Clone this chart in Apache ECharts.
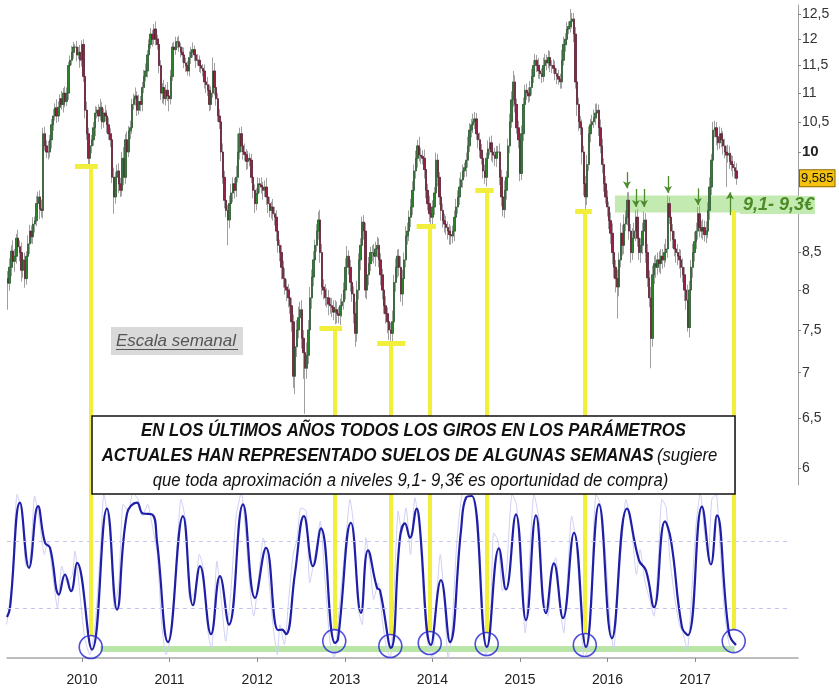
<!DOCTYPE html>
<html>
<head>
<meta charset="utf-8">
<script src="https://cdn.jsdelivr.net/npm/echarts@6/dist/echarts.min.js"></script>
<style>
  html, body { margin: 0; padding: 0; background: #fff; }
  #main { width: 839px; height: 692px; }
</style>
</head>
<body>
<div id="main"></div>
<script>
// velas semanales: cierre en céntimos, mecha superior / inferior en céntimos
const firstWeek = 2009.155
const weekStep = 7 / 365.25
const firstOpen = 8.15
const closes = [
  809, 830, 852, 838, 845, 870, 858, 850, 826, 840,
  815, 845, 862, 880, 872, 890, 895, 920, 930, 912,
  910, 1030, 1010, 1000, 1000, 1020, 1045, 1060, 1074, 1060,
  1075, 1090, 1080, 1100, 1085, 1100, 1150, 1160, 1175, 1185,
  1185, 1170, 1175, 1160, 1190, 1130, 1070, 1030, 990, 1010,
  1020, 1040, 1065, 1070, 1060, 1075, 1050, 1065, 1060, 1045,
  1030, 1020, 960, 930, 960, 970, 950, 940, 990, 960,
  1020, 1000, 1035, 1040, 1080, 1090, 1095, 1070, 1085, 1080,
  1110, 1130, 1140, 1170, 1190, 1210, 1200, 1220, 1200, 1190,
  1150, 1100, 1110, 1090, 1105, 1095, 1090, 1130, 1185, 1180,
  1195, 1195, 1185, 1175, 1170, 1155, 1150, 1140, 1165, 1175,
  1180, 1170, 1160, 1160, 1150, 1145, 1140, 1120, 1115, 1105,
  1080, 1100, 1140, 1110, 1090, 1060, 1050, 1000, 960, 925,
  910, 896, 920, 936, 950, 940, 960, 1000, 1030, 1010,
  1000, 996, 985, 990, 987, 960, 940, 920, 935, 950,
  948, 945, 940, 945, 930, 920, 910, 915, 905, 900,
  880, 860, 850, 830, 815, 804, 800, 790, 780, 760,
  696, 730, 750, 765, 775, 740, 723, 705, 720, 750,
  790, 817, 840, 860, 880, 896, 850, 804, 800, 790,
  790, 782, 780, 778, 772, 775, 770, 768, 780, 785,
  800, 830, 845, 830, 810, 795, 770, 746, 800, 840,
  860, 893, 880, 800, 820, 835, 850, 850, 845, 855,
  860, 840, 820, 800, 780, 770, 760, 750, 746, 760,
  810, 830, 845, 830, 795, 815, 840, 873, 880, 900,
  915, 940, 970, 990, 1010, 995, 993, 990, 972, 940,
  920, 905, 900, 915, 936, 987, 960, 930, 910, 895,
  890, 885, 880, 875, 873, 880, 900, 915, 930, 945,
  956, 970, 975, 987, 1010, 1036, 1045, 1050, 1055, 1030,
  1020, 1003, 990, 970, 960, 990, 1005, 1015, 1000, 995,
  990, 1000, 1000, 960, 930, 911, 940, 960, 1010, 1050,
  1088, 1120, 1080, 1040, 1020, 966, 1030, 1080, 1105, 1100,
  1095, 1110, 1130, 1150, 1160, 1150, 1140, 1135, 1130, 1150,
  1160, 1155, 1165, 1150, 1150, 1145, 1135, 1130, 1125, 1120,
  1160, 1190, 1200, 1220, 1225, 1235, 1240, 1210, 1120, 1080,
  1050, 1040, 1000, 950, 930, 980, 1030, 1045, 1050, 1057,
  1065, 1070, 1040, 1010, 980, 950, 930, 915, 895, 877,
  850, 830, 815, 804, 840, 877, 860, 890, 900, 925,
  880, 850, 870, 880, 900, 870, 850, 860, 880, 896,
  850, 816, 790, 740, 820, 835, 830, 840, 835, 845,
  840, 850, 855, 920, 900, 880, 868, 855, 850, 845,
  840, 830, 820, 800, 787, 753, 800, 830, 850, 865,
  880, 905, 885, 880, 885, 875, 880, 910, 945, 987,
  1036, 1040, 1025, 1015, 1030, 1020, 1010, 1000, 995, 998,
  985, 980, 975, 970, 958.5
]
const upWick = [
  10, 12, 8, 15, 10, 6, 12, 9, 14, 8,
  10, 7, 12, 9, 8, 10, 6, 12, 8, 10,
  14, 10, 12, 9, 18, 8, 10, 12, 8, 15,
  10, 8, 14, 9, 12, 10, 7, 9, 12, 10,
  6, 12, 10, 14, 8, 10, 12, 15, 10, 14,
  8, 10, 12, 6, 10, 15, 9, 8, 14, 10,
  12, 9, 10, 15, 8, 10, 12, 9, 10, 18,
  10, 14, 8, 12, 10, 9, 15, 8, 12, 10,
  10, 12, 14, 9, 10, 12, 8, 10, 15, 9,
  12, 10, 8, 14, 10, 15, 9, 12, 8, 10,
  10, 9, 12, 8, 10, 14, 10, 8, 12, 10,
  14, 8, 10, 12, 9, 10, 8, 12, 10, 14,
  10, 12, 25, 15, 8, 10, 12, 9, 14, 10,
  10, 8, 12, 14, 10, 9, 18, 30, 10, 12,
  10, 14, 9, 12, 8, 10, 12, 9, 8, 10,
  9, 12, 8, 10, 14, 9, 10, 8, 12, 10,
  10, 12, 8, 10, 9, 14, 10, 8, 12, 10,
  9, 10, 12, 14, 10, 12, 10, 8, 15, 12,
  14, 10, 12, 8, 10, 12, 15, 12, 10, 8,
  12, 10, 8, 10, 9, 12, 10, 8, 9, 10,
  10, 12, 14, 8, 10, 12, 10, 15, 12, 9,
  10, 8, 10, 12, 10, 9, 8, 10, 12, 10,
  12, 10, 9, 8, 10, 12, 8, 10, 9, 14,
  10, 12, 9, 10, 15, 12, 10, 14, 12, 10,
  12, 14, 10, 12, 10, 15, 12, 10, 14, 10,
  10, 12, 14, 10, 9, 12, 10, 8, 12, 10,
  10, 12, 9, 10, 12, 8, 10, 12, 10, 14,
  12, 10, 8, 12, 15, 12, 10, 14, 12, 10,
  14, 12, 10, 12, 10, 9, 14, 10, 12, 10,
  12, 10, 10, 14, 12, 8, 15, 10, 12, 14,
  15, 20, 12, 10, 12, 10, 14, 12, 10, 12,
  10, 12, 14, 10, 12, 10, 14, 12, 10, 15,
  12, 10, 14, 12, 10, 12, 14, 10, 12, 10,
  20, 15, 12, 14, 10, 25, 12, 12, 14, 10,
  12, 10, 14, 10, 12, 15, 12, 10, 12, 14,
  16, 12, 10, 14, 12, 10, 12, 10, 8, 12,
  14, 12, 10, 12, 10, 15, 12, 14, 10, 12,
  12, 10, 14, 12, 10, 12, 14, 10, 12, 12,
  10, 12, 10, 14, 12, 10, 12, 10, 12, 10,
  10, 12, 14, 12, 10, 14, 10, 12, 10, 12,
  10, 14, 12, 10, 12, 20, 12, 10, 12, 14,
  12, 10, 12, 10, 12, 10, 14, 12, 15, 10,
  14, 12, 10, 8, 12, 10, 14, 12, 10, 14,
  12, 10, 14, 10, 12
]
const downWick = [
  34, 10, 12, 8, 14, 10, 9, 12, 15, 10,
  12, 8, 10, 14, 9, 10, 12, 8, 10, 15,
  10, 12, 8, 10, 12, 9, 14, 10, 8, 12,
  10, 12, 9, 14, 10, 8, 12, 10, 9, 12,
  10, 12, 8, 14, 12, 10, 14, 10, 12, 10,
  12, 10, 14, 9, 10, 8, 12, 10, 9, 14,
  10, 12, 9, 25, 10, 12, 14, 10, 9, 12,
  10, 12, 8, 14, 10, 9, 12, 10, 8, 12,
  12, 10, 9, 12, 10, 8, 14, 10, 12, 10,
  14, 12, 18, 10, 12, 9, 22, 10, 8, 12,
  10, 12, 9, 10, 14, 10, 12, 8, 10, 12,
  10, 12, 14, 10, 12, 9, 10, 12, 15, 10,
  12, 10, 8, 14, 12, 10, 12, 15, 10, 12,
  10, 36, 12, 10, 14, 12, 10, 8, 12, 10,
  12, 10, 14, 12, 10, 9, 12, 14, 10, 12,
  12, 10, 14, 10, 12, 14, 10, 12, 10, 12,
  14, 10, 12, 16, 12, 10, 14, 12, 10, 12,
  13, 20, 12, 10, 14, 12, 30, 50, 12, 10,
  10, 14, 12, 10, 9, 12, 14, 10, 12, 10,
  12, 14, 10, 12, 10, 15, 12, 10, 12, 14,
  10, 12, 14, 10, 12, 10, 12, 16, 10, 12,
  14, 10, 12, 10, 12, 14, 10, 12, 10, 14,
  12, 10, 14, 12, 10, 12, 14, 12, 10, 10,
  10, 12, 14, 12, 10, 15, 12, 10, 12, 14,
  14, 12, 10, 12, 15, 10, 12, 10, 14, 12,
  10, 12, 10, 14, 12, 10, 14, 12, 15, 10,
  12, 10, 12, 14, 12, 10, 14, 12, 10, 12,
  10, 12, 10, 14, 12, 10, 12, 14, 12, 10,
  14, 12, 10, 12, 10, 14, 12, 10, 14, 12,
  12, 14, 10, 12, 14, 10, 12, 14, 10, 12,
  10, 12, 14, 10, 14, 12, 10, 12, 14, 12,
  12, 10, 14, 12, 10, 12, 14, 10, 12, 10,
  12, 14, 10, 12, 14, 10, 12, 14, 10, 12,
  12, 10, 14, 12, 10, 12, 14, 16, 12, 20,
  15, 12, 20, 18, 20, 12, 10, 14, 12, 10,
  12, 10, 14, 12, 14, 12, 10, 14, 12, 15,
  16, 14, 18, 40, 12, 10, 14, 12, 10, 12,
  12, 14, 10, 12, 14, 12, 10, 14, 12, 10,
  14, 12, 12, 35, 10, 12, 14, 10, 12, 14,
  12, 10, 14, 12, 10, 14, 12, 10, 14, 12,
  12, 14, 10, 14, 12, 5, 12, 10, 14, 12,
  10, 12, 14, 10, 12, 10, 12, 10, 14, 12,
  10, 12, 14, 12, 10, 12, 14, 10, 50, 12,
  12, 10, 14, 12, 10
]

const priceTicks = [6, 6.5, 7, 7.5, 8, 8.5, 10, 10.5, 11, 11.5, 12, 12.5]
const yearTicks = [2010, 2011, 2012, 2013, 2014, 2015, 2016, 2017]

// oscilador (línea lenta azul y línea rápida lila)
const oscSlow = [
  [2009.144, 24.5], [2009.178, 30], [2009.292, 93], [2009.395, 54], [2009.498, 91], [2009.578, 69],
  [2009.635, 66], [2009.738, 38], [2009.806, 50], [2009.875, 40], [2009.943, 57], [2010.114, 5],
  [2010.285, 89.5], [2010.400, 29], [2010.514, 86.5], [2010.628, 93], [2010.696, 86.5], [2010.799, 86],
  [2010.856, 70], [2010.982, 9.5], [2011.153, 85], [2011.267, 31.6], [2011.347, 55], [2011.473, 14.3],
  [2011.575, 49], [2011.678, 20], [2011.838, 92], [2011.975, 36], [2012.101, 66], [2012.238, 16.7],
  [2012.283, 17], [2012.329, 14.3], [2012.432, 51], [2012.534, 85], [2012.637, 55], [2012.728, 77.6],
  [2012.888, 9], [2012.922, 11], [2013.071, 81], [2013.185, 27], [2013.265, 64.5], [2013.368, 42],
  [2013.402, 40.6], [2013.527, 6], [2013.630, 72], [2013.687, 80.6], [2013.744, 72], [2013.824, 89.5],
  [2013.847, 84], [2013.984, 7.8], [2014.098, 46.6], [2014.201, 9.5], [2014.327, 76.4], [2014.384, 96],
  [2014.452, 97], [2014.623, 6.6], [2014.760, 65.7], [2014.840, 41], [2014.954, 86], [2015.069, 22.7],
  [2015.183, 85.4], [2015.297, 26.9], [2015.388, 56.7], [2015.491, 23.9], [2015.617, 75], [2015.753, 6.6],
  [2015.902, 92], [2016.050, 11.9], [2016.222, 89.5], [2016.359, 58.5], [2016.438, 52.5], [2016.530, 30.4],
  [2016.655, 81.8], [2016.724, 70.4], [2016.849, 18.5], [2016.918, 13.7], [2017.078, 90.7], [2017.180, 56],
  [2017.249, 85.4], [2017.386, 14.9], [2017.466, 7.8]
]
const oscFast = [
  [2009.14, 20], [2009.20, 45], [2009.26, 98], [2009.32, 85], [2009.36, 55], [2009.41, 60], [2009.46, 97],
  [2009.52, 80], [2009.57, 62], [2009.61, 70], [2009.67, 48], [2009.72, 30], [2009.77, 55], [2009.83, 45],
  [2009.89, 50], [2009.92, 64], [2009.97, 42], [2010.03, 12], [2010.09, 2], [2010.15, 20], [2010.21, 65],
  [2010.25, 98], [2010.32, 75], [2010.37, 30], [2010.42, 45], [2010.47, 92], [2010.53, 88], [2010.58, 99],
  [2010.64, 95], [2010.69, 85], [2010.75, 92], [2010.80, 80], [2010.86, 62], [2010.91, 20], [2010.96, 2],
  [2011.02, 15], [2011.09, 70], [2011.13, 95], [2011.19, 80], [2011.23, 35], [2011.29, 40], [2011.34, 62],
  [2011.38, 55], [2011.44, 15], [2011.48, 5], [2011.54, 58], [2011.59, 35], [2011.64, 10], [2011.70, 40],
  [2011.76, 85], [2011.82, 99], [2011.86, 80], [2011.92, 40], [2011.96, 25], [2012.02, 50], [2012.07, 72],
  [2012.12, 55], [2012.18, 20], [2012.23, 2], [2012.26, 20], [2012.31, 8], [2012.36, 35], [2012.41, 62],
  [2012.45, 70], [2012.50, 90], [2012.56, 88], [2012.60, 45], [2012.67, 65], [2012.72, 82], [2012.77, 50],
  [2012.83, 10], [2012.88, 0], [2012.92, 20], [2012.97, 48], [2013.01, 70], [2013.06, 95], [2013.11, 75],
  [2013.15, 30], [2013.20, 20], [2013.24, 72], [2013.29, 55], [2013.33, 35], [2013.38, 45], [2013.43, 22],
  [2013.48, 5], [2013.52, 0], [2013.56, 35], [2013.61, 88], [2013.65, 75], [2013.70, 90], [2013.75, 62],
  [2013.80, 96], [2013.85, 80], [2013.90, 35], [2013.95, 8], [2014.00, 0], [2014.04, 30], [2014.09, 62],
  [2014.13, 40], [2014.18, 0], [2014.22, 15], [2014.28, 70], [2014.34, 98], [2014.41, 99], [2014.46, 96],
  [2014.52, 80], [2014.57, 35], [2014.61, 0], [2014.66, 20], [2014.70, 75], [2014.75, 70], [2014.80, 40],
  [2014.85, 55], [2014.91, 98], [2014.96, 92], [2015.01, 50], [2015.06, 15], [2015.11, 60], [2015.16, 98],
  [2015.22, 82], [2015.26, 40], [2015.32, 25], [2015.37, 55], [2015.41, 60], [2015.46, 30], [2015.50, 15],
  [2015.55, 55], [2015.59, 85], [2015.64, 70], [2015.69, 30], [2015.73, 0], [2015.78, 5], [2015.82, 50],
  [2015.87, 98], [2015.93, 90], [2015.98, 60], [2016.03, 20], [2016.07, 5], [2016.12, 40], [2016.17, 75],
  [2016.21, 95], [2016.27, 80], [2016.33, 50], [2016.37, 65], [2016.43, 45], [2016.48, 35], [2016.53, 25],
  [2016.58, 60], [2016.62, 95], [2016.67, 90], [2016.71, 60], [2016.77, 35], [2016.82, 20], [2016.86, 15],
  [2016.91, 5], [2016.95, 30], [2017.01, 80], [2017.06, 99], [2017.10, 78], [2017.15, 60], [2017.19, 95],
  [2017.24, 98], [2017.28, 70], [2017.33, 30], [2017.38, 10], [2017.42, 5], [2017.47, 10]
]

// giros: barra amarilla en el precio, línea hasta el círculo del oscilador
const turnTimes = [2010.10, 2012.88, 2013.52, 2013.97, 2014.62, 2015.74, 2017.44]
const turnPrices = [9.78, 7.52, 7.34, 8.87, 9.40, 9.08, 9.10]
const turnOsc = [6.6, 10.1, 7.2, 9, 8.4, 7.8, 10.1]
const barStarts = [2009.92, 2012.71, 2013.37, 2013.82, 2014.49, 2015.63]
const barEnds = [2010.18, 2012.97, 2013.69, 2014.04, 2014.70, 2015.82]

// zona de soporte 9,1 - 9,3 y flechas
const zoneLow = 9.07
const zoneHigh = 9.32
const zoneStart = 2016.085
const arrowTimes = [2016.221, 2016.324, 2016.416, 2016.690, 2017.032, 2017.397]
const arrowFrom = [9.68, 9.42, 9.42, 9.62, 9.43, 9.03]
const arrowTo = [9.43, 9.15, 9.15, 9.36, 9.18, 9.37]
const oscBand = [2010.21, 2017.45, 3.6, 7.2]

const L = Math.log
const xMin = 2009.144, xMax = 2018.174
const yMinTop = 1.76433, yMaxTop = 2.54028
const oscMin = -5.4, oscMax = 103.6

const wicks = [], bodies = []
let prev = firstOpen
closes.forEach((c, i) => {
  const close = c / 100
  const open = prev
  const hi = Math.max(open, close) + upWick[i] / 100
  const lo = Math.min(open, close) - downWick[i] / 100
  const t = firstWeek + i * weekStep
  wicks.push([t, L(open), L(close), L(lo), L(hi)])
  bodies.push([t, L(open), L(close), L(Math.min(open, close)), L(Math.max(open, close))])
  prev = close
})
const lastClose = closes[closes.length - 1] / 100

const yellow = '#f2ef3c'
const fmtPrice = v => String(v).replace('.', ',')

const topMarks = []
turnTimes.forEach((t, i) => {
  topMarks.push([{ coord: [t, L(turnPrices[i])] }, { coord: [t, yMinTop] }])
})
barStarts.forEach((s, i) => {
  topMarks.push([
    { coord: [s, L(turnPrices[i])], lineStyle: { width: 5 } },
    { coord: [barEnds[i], L(turnPrices[i])] }
  ])
})
const arrowMarks = arrowTimes.map((t, i) => [
  { coord: [t, L(arrowFrom[i])] }, { coord: [t, L(arrowTo[i])] }
])
const bottomMarks = turnTimes.map((t, i) => [
  { coord: [t, oscMax] }, { coord: [t, turnOsc[i] + 6.5] }
])

const boxFont = { fontSize: 18, fontStyle: 'italic', fontFamily: 'Liberation Sans', fill: '#111' }

const chart = echarts.init(document.getElementById('main'))
chart.setOption({
  animation: false,
  backgroundColor: '#fff',
  textStyle: { fontFamily: 'Liberation Sans, Arial, sans-serif' },
  grid: [
    { left: 7, right: 41, top: 5, height: 480 },
    { left: 7, right: 41, top: 485, height: 182 }
  ],
  xAxis: [
    { type: 'value', gridIndex: 0, min: xMin, max: xMax, show: false },
    {
      type: 'value', gridIndex: 1, min: xMin, max: xMax,
      splitLine: { show: false },
      axisLine: { lineStyle: { color: '#a8a8a8', width: 1.5 } },
      axisTick: { customValues: yearTicks, length: 4, lineStyle: { color: '#888' } },
      axisLabel: {
        customValues: yearTicks, formatter: v => String(Math.round(v)),
        color: '#222', fontSize: 14, margin: 6
      }
    }
  ],
  yAxis: [
    {
      type: 'value', gridIndex: 0, position: 'right', min: yMinTop, max: yMaxTop,
      splitLine: { show: false },
      axisLine: { show: true, lineStyle: { color: '#a0a0a0' } },
      axisTick: { show: true, customValues: priceTicks.map(L), length: 3, lineStyle: { color: '#888' } },
      axisLabel: {
        customValues: priceTicks.map(L),
        formatter: v => {
          const p = Math.round(Math.exp(v) * 2) / 2
          return p === 10 ? '{b|10}' : fmtPrice(p)
        },
        rich: { b: { fontWeight: 'bold', fontSize: 15, color: '#222' } },
        color: '#333', fontSize: 14, margin: 4
      }
    },
    { type: 'value', gridIndex: 1, min: oscMin, max: oscMax, show: false }
  ],
  series: [
    {
      type: 'candlestick', name: 'mechas', xAxisIndex: 0, yAxisIndex: 0,
      encode: { x: 0, y: [1, 2, 3, 4] }, data: wicks, barWidth: 1.9,
      itemStyle: { color: '#a0a0a0', color0: '#a0a0a0', borderColor: '#a0a0a0', borderColor0: '#a0a0a0', borderWidth: 1 },
      markArea: {
        silent: true,
        itemStyle: { color: '#c3eab0' },
        label: {
          show: true, position: 'insideRight', distance: 0, offset: [17, 1],
          formatter: '9,1- 9,3€', color: '#4b8a25', fontSize: 18,
          fontWeight: 'bold', fontStyle: 'italic', backgroundColor: '#c3eab0', padding: [0, 1, 0, 3]
        },
        data: [[{ coord: [zoneStart, L(zoneLow)] }, { coord: [xMax, L(zoneHigh)] }]]
      }
    },
    {
      type: 'candlestick', name: 'cuerpos', xAxisIndex: 0, yAxisIndex: 0,
      encode: { x: 0, y: [1, 2, 3, 4] }, data: bodies, barWidth: 1.9,
      itemStyle: { color: '#2a842a', color0: '#962046', borderColor: '#24502a', borderColor0: '#55162a', borderWidth: 0.6 },
      markLine: {
        silent: true, symbol: ['none', 'none'],
        label: { show: false },
        lineStyle: { color: yellow, width: 4, type: 'solid' },
        data: topMarks.concat([
          [
            {
              coord: [xMin, L(lastClose)],
              label: {
                show: true, position: 'end', distance: 2, formatter: fmtPrice(lastClose),
                color: '#111', fontSize: 13, backgroundColor: '#f5c20f',
                borderColor: '#8a6a00', borderWidth: 1, padding: [2, 1, 1, 1]
              },
              lineStyle: { color: 'rgba(0,0,0,0)', width: 1 }
            },
            { coord: [xMax, L(lastClose)] }
          ]
        ])
      }
    },
    {
      type: 'line', name: 'flechas', xAxisIndex: 0, yAxisIndex: 0, data: [],
      markLine: {
        silent: true, symbol: ['none', 'arrow'], symbolSize: [6, 7],
        label: { show: false },
        lineStyle: { color: '#4e8a2e', width: 1.3, type: 'solid' },
        data: arrowMarks
      }
    },
    {
      type: 'line', name: 'rápida', xAxisIndex: 1, yAxisIndex: 1, data: oscFast,
      showSymbol: false, smooth: 0.2,
      lineStyle: { color: '#cfcff4', width: 1 },
      markLine: {
        silent: true, symbol: ['none', 'none'], label: { show: false },
        lineStyle: { color: '#c4c4ee', width: 1, type: [4, 4] },
        data: [
          [{ coord: [xMin, 70] }, { coord: [2018.07, 70] }],
          [{ coord: [xMin, 30] }, { coord: [2018.07, 30] }]
        ]
      },
      markArea: {
        silent: true, itemStyle: { color: '#b9e6a6' },
        data: [[{ coord: [oscBand[0], oscBand[2]] }, { coord: [oscBand[1], oscBand[3]] }]]
      }
    },
    {
      type: 'line', name: 'lenta', xAxisIndex: 1, yAxisIndex: 1, data: oscSlow,
      showSymbol: false, smooth: 0.45,
      lineStyle: { color: '#1e1ea6', width: 2.2 }
    },
    {
      type: 'scatter', name: 'giros', xAxisIndex: 1, yAxisIndex: 1,
      data: turnTimes.map((t, i) => [t, turnOsc[i]]),
      symbol: 'circle', symbolSize: 23, z: 5,
      itemStyle: { color: 'rgba(0,0,0,0)', borderColor: '#2323d6', borderWidth: 1.6 },
      markLine: {
        silent: true, symbol: ['none', 'none'], label: { show: false },
        lineStyle: { color: yellow, width: 4, type: 'solid' },
        data: bottomMarks
      }
    }
  ],
  graphic: [
    { type: 'rect', z: 100, zlevel: 1, shape: { x: 111, y: 327, width: 132, height: 28 }, style: { fill: '#d9d9d9' } },
    {
      type: 'text', z: 101, zlevel: 1, x: 116, y: 341,
      style: { text: 'Escala semanal', fill: '#555', fontSize: 17, fontStyle: 'italic', fontFamily: 'Liberation Sans', verticalAlign: 'middle' }
    },
    { type: 'line', z: 101, zlevel: 1, shape: { x1: 116, y1: 349.5, x2: 238, y2: 349.5 }, style: { stroke: '#555', lineWidth: 1 } },
    { type: 'rect', z: 100, zlevel: 1, shape: { x: 92, y: 416, width: 643, height: 78 }, style: { fill: '#fff', stroke: '#111', lineWidth: 1.5 } },
    {
      type: 'text', z: 101, zlevel: 1, x: 413.5, y: 431, scaleX: 0.93,
      style: Object.assign({ text: 'EN LOS ÚLTIMOS AÑOS TODOS LOS GIROS EN LOS PARÁMETROS', fontWeight: 'bold', align: 'center', verticalAlign: 'middle' }, boxFont)
    },
    {
      type: 'text', z: 101, zlevel: 1, x: 409.5, y: 456, scaleX: 0.93,
      style: {
        text: '{b|ACTUALES HAN REPRESENTADO SUELOS DE ALGUNAS SEMANAS} {n|(sugiere}',
        align: 'center', verticalAlign: 'middle',
        rich: {
          b: Object.assign({ fontWeight: 'bold' }, boxFont),
          n: Object.assign({}, boxFont)
        }
      }
    },
    {
      type: 'text', z: 101, zlevel: 1, x: 410.5, y: 481, scaleX: 0.93,
      style: Object.assign({ text: 'que toda aproximación a niveles 9,1- 9,3€ es oportunidad de compra)', align: 'center', verticalAlign: 'middle' }, boxFont)
    }
  ]
})
</script>
</body>
</html>
